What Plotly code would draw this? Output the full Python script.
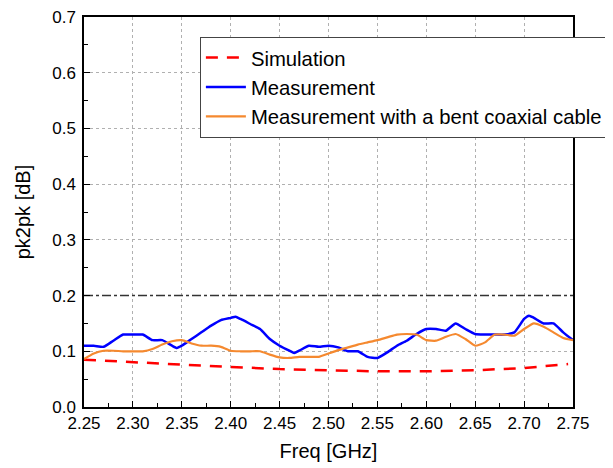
import plotly.graph_objects as go

# Data
freq_meas = [2.25, 2.26, 2.27, 2.28, 2.29, 2.30, 2.31, 2.32, 2.33, 2.34, 2.345, 2.35, 2.36, 2.37, 2.38, 2.39,
             2.40, 2.405, 2.41, 2.42, 2.43, 2.44, 2.45, 2.46, 2.465, 2.47, 2.48, 2.49, 2.50, 2.51, 2.52, 2.53,
             2.54, 2.55, 2.56, 2.57, 2.58, 2.59, 2.60, 2.61, 2.62, 2.63, 2.64, 2.65, 2.66, 2.67, 2.68, 2.69,
             2.70, 2.705, 2.71, 2.72, 2.73, 2.74, 2.75]
measurement = [0.110, 0.110, 0.108, 0.119, 0.130, 0.130, 0.130, 0.120, 0.120, 0.110, 0.106, 0.110, 0.122, 0.134,
               0.146, 0.156, 0.160, 0.162, 0.158, 0.149, 0.140, 0.122, 0.110, 0.101, 0.097, 0.101, 0.110, 0.108,
               0.110, 0.107, 0.100, 0.100, 0.090, 0.088, 0.098, 0.110, 0.119, 0.131, 0.140, 0.140, 0.137, 0.150,
               0.140, 0.131, 0.130, 0.130, 0.130, 0.134, 0.158, 0.164, 0.160, 0.150, 0.150, 0.134, 0.120]

freq_bent = [2.25, 2.26, 2.27, 2.28, 2.29, 2.30, 2.31, 2.32, 2.33, 2.34, 2.35, 2.36, 2.37, 2.38, 2.39, 2.40,
             2.41, 2.42, 2.43, 2.44, 2.45, 2.46, 2.47, 2.48, 2.49, 2.50, 2.51, 2.52, 2.53, 2.54, 2.55, 2.56,
             2.57, 2.58, 2.59, 2.60, 2.61, 2.62, 2.63, 2.64, 2.65, 2.66, 2.67, 2.68, 2.69, 2.70, 2.71, 2.72,
             2.73, 2.74, 2.75]
bent_cable = [0.086, 0.096, 0.101, 0.101, 0.100, 0.100, 0.100, 0.104, 0.112, 0.118, 0.120, 0.114, 0.110, 0.110,
              0.108, 0.101, 0.100, 0.100, 0.100, 0.094, 0.089, 0.088, 0.090, 0.090, 0.090, 0.096, 0.102, 0.107,
              0.112, 0.116, 0.120, 0.125, 0.130, 0.131, 0.130, 0.120, 0.119, 0.126, 0.131, 0.122, 0.110, 0.116,
              0.130, 0.130, 0.128, 0.140, 0.150, 0.144, 0.134, 0.124, 0.120]

freq_sim = [2.25, 2.30, 2.35, 2.40, 2.45, 2.50, 2.55, 2.60, 2.65, 2.70, 2.745]
simulation = [0.085, 0.080, 0.076, 0.072, 0.068, 0.066, 0.064, 0.064, 0.066, 0.070, 0.077]

limit_freq = [2.25, 2.75]
limit_value = [0.2, 0.2]

x_ticks = [2.25, 2.30, 2.35, 2.40, 2.45, 2.50, 2.55, 2.60, 2.65, 2.70, 2.75]
y_ticks = [0.0, 0.1, 0.2, 0.3, 0.4, 0.5, 0.6, 0.7]

fig = go.Figure()
fig.add_trace(go.Scatter(x=limit_freq, y=limit_value, mode="lines", showlegend=False,
                         line=dict(color="#333333", width=1.5, dash="dashdot"), hoverinfo="skip"))
fig.add_trace(go.Scatter(x=freq_sim, y=simulation, mode="lines", name="Simulation",
                         line=dict(color="#ff0000", width=2.5, dash="12px,9px")))
fig.add_trace(go.Scatter(x=freq_meas, y=measurement, mode="lines", name="Measurement",
                         line=dict(color="#0000ff", width=2.5, shape="spline", smoothing=0.5)))
fig.add_trace(go.Scatter(x=freq_bent, y=bent_cable, mode="lines", name="Measurement with a bent coaxial cable",
                         line=dict(color="#f5892f", width=2.2, shape="spline", smoothing=0.5)))

axis_common = dict(showline=True, linecolor="black", linewidth=1.5, mirror=True,
                   ticks="inside", ticklen=6, tickcolor="black", tickwidth=1.2,
                   showgrid=True, gridcolor="#b0b0b0", griddash="dot", gridwidth=1,
                   zeroline=False, ticklabeloverflow="allow",
                   tickfont=dict(family="Arial", size=17, color="black"))

fig.update_xaxes(range=[2.25, 2.75], tickvals=x_ticks, tickformat=".2f",
                 minor=dict(ticks="inside", dtick=0.025, tick0=2.25, ticklen=4, tickcolor="black", showgrid=False),
                 title=dict(text="Freq [GHz]", font=dict(family="Arial", size=20, color="black"), standoff=12),
                 **axis_common)
fig.update_yaxes(range=[0, 0.7], tickvals=y_ticks, tickformat=".1f", ticklabelstandoff=3,
                 minor=dict(ticks="inside", dtick=0.05, tick0=0, ticklen=4, tickcolor="black", showgrid=False),
                 title=dict(text="pk2pk [dB]", font=dict(family="Arial", size=20, color="black"), standoff=16),
                 **axis_common)

fig.update_layout(
    width=605, height=460,
    margin=dict(l=76, r=40, t=9, b=61, autoexpand=False),
    plot_bgcolor="white", paper_bgcolor="white",
    legend=dict(x=0.237, y=0.949, xanchor="left", yanchor="top",
                bgcolor="white", bordercolor="#444444", borderwidth=1,
                font=dict(family="Arial", size=20.3, color="black"),
                itemwidth=40, tracegroupgap=0),
    showlegend=True,
)

fig.write_html("out.html")
